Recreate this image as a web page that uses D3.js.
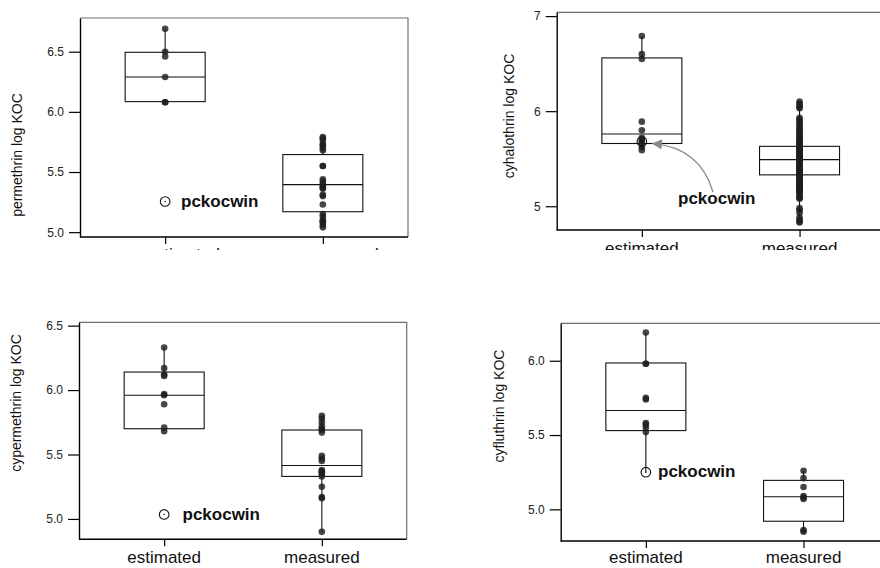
<!DOCTYPE html>
<html><head><meta charset="utf-8">
<script src="https://cdn.jsdelivr.net/npm/d3@7"></script>
<style>body{margin:0;background:#fff}svg{display:block}</style>
</head><body><svg id="c" width="880" height="568"></svg>
<script>
const categories = ["estimated", "measured"];
const panelTitles = ["permethrin log KOC", "cyhalothrin log KOC", "cypermethrin log KOC", "cyfluthrin log KOC"];
const pckLabel = "pckocwin";

// permethrin
const permethrinEstimated = [6.69, 6.50, 6.46, 6.29, 6.08, 6.08];
const permethrinMeasured = [5.79, 5.78, 5.76, 5.73, 5.72, 5.70, 5.68, 5.55, 5.55, 5.44, 5.42, 5.40, 5.38, 5.37, 5.36, 5.31, 5.30, 5.23, 5.15, 5.13, 5.10, 5.09, 5.08, 5.06, 5.04];
const permethrinEstBox = [6.08, 6.085, 6.29, 6.495, 6.69];   // lo, q1, median, q3, hi
const permethrinMeasBox = [5.04, 5.17, 5.395, 5.645, 5.79];
const permethrinPck = 5.255;
const permethrinDomain = [4.96, 6.78];
const permethrinTicks = [5.0, 5.5, 6.0, 6.5];

// cyhalothrin
const cyhalothrinEstimated = [6.79, 6.60, 6.55, 5.89, 5.80, 5.72, 5.70, 5.68, 5.66, 5.62, 5.59];
const cyhalothrinMeasured = [6.10, 6.08, 6.06, 6.04, 6.03, 5.93, 5.91, 5.90, 5.88, 5.86, 5.84, 5.82, 5.80, 5.79, 5.77, 5.76, 5.74, 5.73, 5.71, 5.70, 5.69, 5.68, 5.67, 5.66, 5.65, 5.64, 5.63, 5.62, 5.61, 5.60, 5.59, 5.58, 5.57, 5.56, 5.55, 5.54, 5.53, 5.52, 5.51, 5.50, 5.49, 5.48, 5.47, 5.46, 5.45, 5.44, 5.43, 5.42, 5.41, 5.40, 5.39, 5.38, 5.37, 5.36, 5.35, 5.34, 5.33, 5.32, 5.31, 5.30, 5.29, 5.28, 5.27, 5.26, 5.25, 5.24, 5.23, 5.22, 5.21, 5.20, 5.19, 5.18, 5.17, 5.16, 5.15, 5.14, 5.12, 5.10, 5.09, 5.08, 4.98, 4.96, 4.93, 4.88, 4.86, 4.84, 4.83];
const cyhalothrinEstBox = [5.59, 5.66, 5.76, 6.56, 6.79];
const cyhalothrinMeasBox = [4.83, 5.33, 5.49, 5.63, 6.10];
const cyhalothrinPck = 5.68;
const cyhalothrinDomain = [4.75, 7.04];
const cyhalothrinTicks = [5, 6, 7];

// cypermethrin
const cypermethrinEstimated = [6.33, 6.17, 6.12, 6.11, 5.97, 5.96, 5.89, 5.71, 5.68];
const cypermethrinMeasured = [5.80, 5.78, 5.75, 5.72, 5.70, 5.69, 5.67, 5.49, 5.47, 5.45, 5.38, 5.37, 5.36, 5.35, 5.33, 5.25, 5.17, 5.16, 4.90];
const cypermethrinEstBox = [5.68, 5.70, 5.96, 6.14, 6.33];
const cypermethrinMeasBox = [4.90, 5.33, 5.415, 5.69, 5.80];
const cypermethrinPck = 5.035;
const cypermethrinDomain = [4.842, 6.526];
const cypermethrinTicks = [5.0, 5.5, 6.0, 6.5];

// cyfluthrin
const cyfluthrinEstimated = [6.19, 5.98, 5.98, 5.75, 5.74, 5.58, 5.57, 5.55, 5.52];
const cyfluthrinMeasured = [5.26, 5.21, 5.15, 5.09, 5.08, 5.07, 4.86, 4.85];
const cyfluthrinEstBox = [5.25, 5.53, 5.665, 5.985, 6.19];
const cyfluthrinMeasBox = [4.85, 4.92, 5.085, 5.195, 5.26];
const cyfluthrinPck = 5.25;
const cyfluthrinDomain = [4.787, 6.252];
const cyfluthrinTicks = [5.0, 5.5, 6.0];

const panels = [
  {title: panelTitles[0], est: permethrinEstimated, meas: permethrinMeasured, estBox: permethrinEstBox, measBox: permethrinMeasBox, pck: permethrinPck, domain: permethrinDomain, ticks: permethrinTicks, fmt: ".1f"},
  {title: panelTitles[1], est: cyhalothrinEstimated, meas: cyhalothrinMeasured, estBox: cyhalothrinEstBox, measBox: cyhalothrinMeasBox, pck: cyhalothrinPck, domain: cyhalothrinDomain, ticks: cyhalothrinTicks, fmt: "d"},
  {title: panelTitles[2], est: cypermethrinEstimated, meas: cypermethrinMeasured, estBox: cypermethrinEstBox, measBox: cypermethrinMeasBox, pck: cypermethrinPck, domain: cypermethrinDomain, ticks: cypermethrinTicks, fmt: ".1f"},
  {title: panelTitles[3], est: cyfluthrinEstimated, meas: cyfluthrinMeasured, estBox: cyfluthrinEstBox, measBox: cyfluthrinMeasBox, pck: cyfluthrinPck, domain: cyfluthrinDomain, ticks: cyfluthrinTicks, fmt: ".1f"}
];

// layout
const layouts = [
  {left: 80, top: 18, bottom: 237, right: 408, clipY: 250, labelY: 260, labelDx: 18, titleX: 22, titleY: 155, pckText: [181, 207]},
  {left: 556.7, top: 12.3, bottom: 230, right: 890, clipY: 250, labelY: 254, labelDx: 0, titleX: 514, titleY: 116, pckText: [678, 204], arrow: true},
  {left: 79, top: 322.3, bottom: 539.3, right: 406.7, clipY: null, labelY: 563, labelDx: 0, titleX: 20.5, titleY: 403, pckText: [182.5, 520]},
  {left: 560.7, top: 323.3, bottom: 541, right: 890, clipY: null, labelY: 563, labelDx: 0, titleX: 504, titleY: 406, pckText: [658, 476.5]}
];

const FONT = "'Liberation Sans', Arial, Helvetica, sans-serif";
const svg = d3.select("#c");
const defs = svg.append("defs");
defs.append("clipPath").attr("id", "clipTop").append("rect").attr("x", 0).attr("y", 0).attr("width", 880).attr("height", 250);
defs.append("marker").attr("id", "arr").attr("viewBox", "0 0 10 10").attr("refX", 9).attr("refY", 5)
  .attr("markerWidth", 12).attr("markerHeight", 10).attr("markerUnits", "userSpaceOnUse").attr("orient", "auto")
  .append("path").attr("d", "M0,0L10,5L0,10Z").attr("fill", "#8a8a8a");

panels.forEach((p, i) => {
  const L = layouts[i];
  const g = svg.append("g");
  if (L.clipY) g.attr("clip-path", "url(#clipTop)");
  const x = d3.scalePoint().domain(categories).range([L.left, L.left + 328]).padding(0.54);
  const y = d3.scaleLinear().domain(p.domain).range([L.bottom, L.top]);

  // frame (top + right, gray)
  g.append("path").attr("d", `M${L.left},${L.top}H${L.right}V${L.bottom}`)
    .attr("fill", "none").attr("stroke", "#707070").attr("stroke-width", 1.2);

  const series = [
    {cat: categories[0], vals: p.est, box: p.estBox},
    {cat: categories[1], vals: p.meas, box: p.measBox}
  ];
  series.forEach(s => {
    const cx = x(s.cat);
    const [lo, q1, md, q3, hi] = s.box;
    const bg = g.append("g").attr("stroke", "#111").attr("stroke-width", 1.1).attr("fill", "none");
    bg.append("line").attr("x1", cx).attr("x2", cx).attr("y1", y(q3)).attr("y2", y(hi));
    bg.append("line").attr("x1", cx).attr("x2", cx).attr("y1", y(q1)).attr("y2", y(lo));
    bg.append("rect").attr("x", cx - 40).attr("y", y(q3)).attr("width", 80).attr("height", y(q1) - y(q3));
    bg.append("line").attr("x1", cx - 40).attr("x2", cx + 40).attr("y1", y(md)).attr("y2", y(md));
    g.append("g").selectAll("circle").data(s.vals).join("circle")
      .attr("cx", cx).attr("cy", d => y(d)).attr("r", 3.3)
      .attr("fill", "#1e1e1e").attr("fill-opacity", 0.82);
  });

  // pckocwin marker
  const px = x(categories[0]), py = y(p.pck);
  g.append("circle").attr("cx", px).attr("cy", py).attr("r", 4.8)
    .attr("fill", "none").attr("stroke", "#111").attr("stroke-width", 1.1);
  g.append("circle").attr("cx", px).attr("cy", py).attr("r", 0.8).attr("fill", "#111");
  g.append("text").attr("x", L.pckText[0]).attr("y", L.pckText[1]).text(pckLabel)
    .attr("font-family", FONT).attr("font-size", 17).attr("font-weight", "bold").attr("fill", "#111");

  if (L.arrow) {
    g.append("path").attr("d", `M${L.pckText[0] + 35},${L.pckText[1] - 12} Q${L.pckText[0] + 22},${py + 6} ${px + 11},${py + 2}`)
      .attr("fill", "none").attr("stroke", "#8a8a8a").attr("stroke-width", 1.4).attr("marker-end", "url(#arr)");
  }

  // y axis
  const ya = g.append("g").attr("transform", `translate(${L.left},0)`)
    .call(d3.axisLeft(y).tickValues(p.ticks).tickFormat(d3.format(p.fmt)).tickSize(11).tickPadding(5).tickSizeOuter(0));
  ya.select(".domain").attr("stroke", "#000").attr("stroke-width", 1.4);
  ya.selectAll(".tick line").attr("stroke", "#000").attr("stroke-width", 1.2);
  ya.selectAll("text").attr("font-family", FONT).attr("font-size", 12).attr("fill", "#222");

  // x axis
  const xa = g.append("g").attr("transform", `translate(0,${L.bottom})`)
    .call(d3.axisBottom(x).tickSize(7).tickSizeOuter(0));
  xa.select(".domain").attr("stroke", "#000").attr("stroke-width", 1.4).attr("d", `M${L.left},0H${L.right}`);
  xa.selectAll(".tick line").attr("stroke", "#000").attr("stroke-width", 1.2);
  xa.selectAll("text").remove();
  g.append("g").selectAll("text").data(categories).join("text")
    .attr("x", d => x(d) + L.labelDx).attr("y", L.labelY).attr("text-anchor", "middle")
    .attr("font-family", FONT).attr("font-size", 17).attr("fill", "#111").text(d => d);

  // y title
  g.append("text").attr("transform", `translate(${L.titleX},${L.titleY}) rotate(-90)`)
    .attr("text-anchor", "middle").attr("font-family", FONT).attr("font-size", 14).attr("fill", "#111")
    .text(p.title);
});
</script></body></html>
